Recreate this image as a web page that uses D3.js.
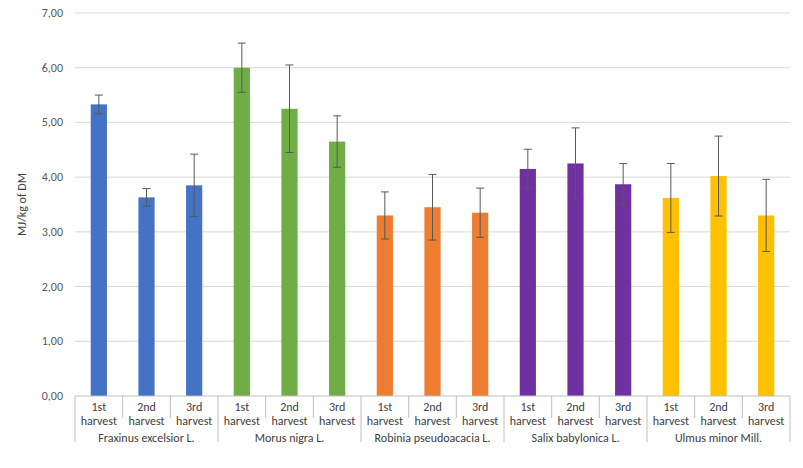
<!DOCTYPE html>
<html><head><meta charset="utf-8">
<script src="https://cdn.jsdelivr.net/npm/d3@7"></script>
<style>body{margin:0;background:#fff;font-family:Calibri,Carlito,"Liberation Sans",sans-serif}</style>
</head><body><svg id="c" width="803" height="468"></svg>
<script>
const species = ["Fraxinus excelsior L.", "Morus nigra L.", "Robinia pseudoacacia L.", "Salix babylonica L.", "Ulmus minor Mill."];
const harvests = ["1st harvest", "2nd harvest", "3rd harvest"];
const colors = ["#4472C4", "#70AD47", "#ED7D31", "#7030A0", "#FFC000"];
const values = [[5.33, 3.63, 3.85], [6.0, 5.25, 4.65], [3.30, 3.45, 3.35], [4.15, 4.25, 3.87], [3.62, 4.02, 3.30]];
const errors = [[0.17, 0.16, 0.57], [0.45, 0.80, 0.47], [0.43, 0.60, 0.45], [0.36, 0.65, 0.38], [0.63, 0.73, 0.66]];
const yTicks = [0, 1, 2, 3, 4, 5, 6, 7];

const svg = d3.select("#c");
const L = 75, R = 790, T = 13, B = 396;
const y = d3.scaleLinear().domain([0, 7]).range([B, T]);
const bars = [];
species.forEach((s, i) => harvests.forEach((h, j) => bars.push({s, h, i, j, v: values[i][j], e: errors[i][j]})));
const x = d3.scaleBand().domain(d3.range(bars.length)).range([L, R]).paddingInner(0.66).paddingOuter(0.33);
const step = x.step();
const fmt = d => d.toFixed(2).replace(".", ",");

svg.append("g").selectAll("line").data(yTicks.slice(1)).join("line")
  .attr("x1", L).attr("x2", R).attr("y1", d => y(d)).attr("y2", d => y(d))
  .attr("stroke", "#d9d9d9");
svg.append("g").selectAll("text").data(yTicks).join("text")
  .attr("x", L - 12).attr("y", d => y(d) + 4).attr("text-anchor", "end")
  .attr("font-size", 12).attr("fill", "#595959").text(fmt);
svg.append("text").attr("transform", `translate(26,${(T + B) / 2}) rotate(-90)`)
  .attr("text-anchor", "middle").attr("font-size", 12).attr("fill", "#404040").text("MJ/kg of DM");

svg.append("g").selectAll("rect").data(bars).join("rect")
  .attr("x", (d, k) => x(k)).attr("width", x.bandwidth())
  .attr("y", d => y(d.v)).attr("height", d => B - y(d.v)).attr("fill", d => colors[d.i]);

const eb = svg.append("g").attr("stroke", "#595959").attr("stroke-width", 1);
bars.forEach((d, k) => {
  const cx = x(k) + x.bandwidth() / 2;
  eb.append("line").attr("x1", cx).attr("x2", cx).attr("y1", y(d.v - d.e)).attr("y2", y(d.v + d.e));
  [d.v - d.e, d.v + d.e].forEach(t => eb.append("line").attr("x1", cx - 4).attr("x2", cx + 4).attr("y1", y(t)).attr("y2", y(t)));
});

// axis
const ax = svg.append("g").attr("stroke", "#bfbfbf");
ax.append("line").attr("x1", L).attr("x2", R).attr("y1", B).attr("y2", B);
for (let k = 0; k <= bars.length; k++) {
  const xx = L + k * step;
  ax.append("line").attr("x1", xx).attr("x2", xx).attr("y1", B).attr("y2", k % 3 === 0 ? 442 : 418);
}
bars.forEach((d, k) => {
  const cx = x(k) + x.bandwidth() / 2;
  const t = svg.append("text").attr("text-anchor", "middle").attr("font-size", 12).attr("fill", "#404040");
  const p = d.h.split(" ");
  t.append("tspan").attr("x", cx).attr("y", 411).text(p[0]);
  t.append("tspan").attr("x", cx).attr("y", 425).text(p[1]);
});
species.forEach((s, i) => {
  svg.append("text").attr("x", L + (i * 3 + 1.5) * step).attr("y", 442).attr("text-anchor", "middle")
    .attr("font-size", 12).attr("fill", "#404040").text(s);
});
</script></body></html>
